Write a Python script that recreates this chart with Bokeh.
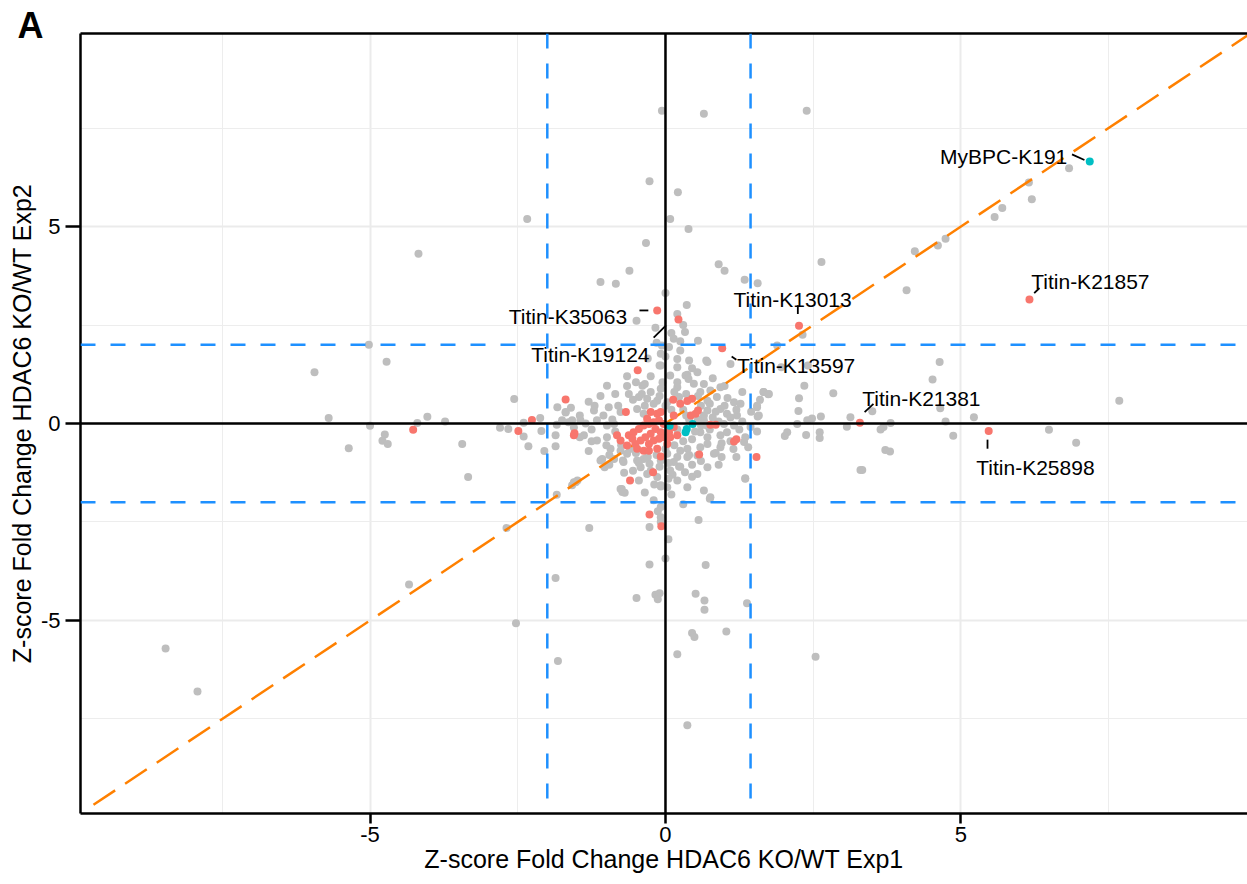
from bokeh.plotting import figure
from bokeh.models import Range1d, LinearAxis, SingleIntervalTicker, FixedTicker, Span
from bokeh.embed import file_html
from bokeh.resources import INLINE
from bokeh.core.properties import value

# ---------------- data ----------------
x_title = "Z-score Fold Change HDAC6 KO/WT Exp1"
y_title = "Z-score Fold Change HDAC6 KO/WT Exp2"
tick_values = [-5, 0, 5]
tick_labels = ["-5", "0", "5"]

x_cut = [-2.0, 1.44]
y_cut = [2.0, -2.0]
diag_ends = [-9.68, 9.9]

gray_pts = [
    (-0.06, 7.94), (0.65, 7.86), (2.39, 7.94), (-0.27, 6.15), (0.21, 5.87), (-2.34, 5.19), (0.08, 5.19),
    (0.39, 4.94), (-0.33, 4.58), (-4.18, 4.31), (0.90, 4.04), (1.00, 3.88), (-0.61, 3.88), (2.64, 4.10),
    (-1.10, 3.59), (-0.84, 3.55), (1.34, 3.65), (1.56, 3.56), (0.00, 3.31), (0.36, 3.01), (4.08, 3.38),
    (4.22, 4.37), (4.61, 4.52), (4.74, 4.69), (5.57, 5.24), (5.70, 5.47), (6.15, 6.12), (6.20, 5.69),
    (6.83, 6.48), (-0.49, 2.61), (2.32, 2.25), (1.89, 1.98), (1.96, 1.43), (2.41, 1.47), (0.20, 2.78),
    (-0.17, 2.43), (0.33, 2.32), (0.14, 2.15), (0.25, 2.09), (-0.06, 1.98), (0.06, 1.94), (-0.08, 1.77),
    (0.20, 1.64), (-0.10, 1.47), (0.37, 1.24), (0.69, 1.60), (1.10, 1.51),
    (4.64, 1.56), (4.52, 1.12), (2.35, 0.96), (2.84, 0.77), (1.66, 0.80), (1.74, 0.74), (2.26, 0.64),
    (1.55, 0.45), (2.25, 0.32), (3.50, 0.31), (4.65, 0.39), (7.68, 0.58), (1.56, 0.18), (2.63, 0.18),
    (2.48, 0.13), (2.40, 0.08), (3.13, 0.16), (5.22, 0.16), (4.74, 0.05), (3.81, 0.01), (3.69, -0.09),
    (3.64, -0.15), (3.07, -0.08), (2.23, -0.01), (2.61, -0.22), (2.61, -0.37), (2.06, -0.22), (2.02, -0.32),
    (2.38, -0.29), (6.49, -0.16), (6.95, -0.49), (4.87, -0.31), (3.72, -0.67), (3.80, -0.71), (3.33, -1.18),
    (1.35, -1.39), (0.75, -1.91), (0.56, -2.45), (-0.27, -2.63), (-0.08, -2.50), (0.05, -2.94), (0.00, -3.43),
    (-0.27, -3.58), (0.68, -3.59), (-1.86, -3.92), (-0.49, -4.43), (-0.17, -4.35), (-0.10, -4.31),
    (-0.13, -4.46), (0.51, -4.32), (0.66, -4.49), (0.66, -4.73), (1.38, -4.56), (-2.53, -5.07), (0.45, -5.32),
    (0.49, -5.42), (1.03, -5.28), (0.20, -5.86), (-1.82, -6.03), (2.54, -5.92), (0.37, -7.66), (-2.69, -2.65),
    (-1.29, -2.65), (-4.34, -4.09), (-8.46, -5.71), (-7.92, -6.80), (-0.08, -2.12), (-0.13, -2.23),
    (-0.08, -2.38), (3.30, -1.18),
    (-5.02, 2.00), (-4.72, 1.57), (-5.94, 1.30), (-5.70, 0.14), (-4.03, 0.17), (-3.73, 0.05), (-4.20, 0.01),
    (-5.00, -0.06), (-4.75, -0.28), (-4.79, -0.44), (-4.70, -0.52), (-5.36, -0.63), (-3.44, -0.52),
    (-3.34, -1.36), (-2.56, 0.62), (-2.12, 0.14), (-2.40, 0.02), (-2.80, -0.11), (-2.66, -0.14),
    (-2.40, -0.33), (-2.10, -0.19), (-2.32, -0.58), (-2.05, -0.70), (-1.86, -0.30), (-1.86, -0.58),
    (-1.84, -0.03), (-1.75, 0.08), (-1.58, 0.08), (-1.83, 0.41), (-1.69, 0.28), (-1.52, -1.49),
    (-1.58, -1.57), (-1.84, -1.81), (-1.08, -0.92), (-1.03, -1.11), (-0.72, -0.94), (-0.74, -1.66),
    (-0.69, -1.76), (0.33, -1.24), (0.12, -1.30), (0.23, -1.09), (-0.19, -1.55), (-0.08, -1.60),
    (0.03, -1.62), (-0.27, -1.02),
    (-0.08, 1.47), (0.20, 1.43), (0.08, 1.22), (0.34, 1.22), (0.39, 1.13), (0.54, 1.30), (0.71, 1.56),
    (-0.99, 0.96), (-0.39, 0.96), (-0.25, 0.80), (-0.08, 0.88), (0.20, 0.92), (0.48, 1.01), (0.59, 0.80),
    (0.76, 0.84), (0.93, 0.92), (-0.62, 0.75), (-0.45, 0.67), (-0.31, 0.63), (-0.14, 0.58), (0.03, 0.54),
    (0.23, 0.67), (0.71, 0.58), (0.87, 0.67), (1.16, 0.54), (1.27, 0.50), (1.66, 0.80), (1.75, 0.75),
    (-1.21, 0.33), (-0.96, 0.41), (-0.76, 0.29), (-0.48, 0.37), (-0.37, 0.25), (0.71, 0.33), (0.93, 0.37),
    (1.04, 0.25), (1.21, 0.20), (1.55, 0.41), (1.58, 0.20), (-1.69, 0.29), (-1.64, 0.03), (-1.44, 0.08),
    (-1.16, 0.08), (-0.99, -0.05), (-0.87, -0.01), (0.65, 0.08), (0.99, -0.01), (1.16, -0.05), (1.44, -0.09),
    (-1.38, -0.30), (-1.16, -0.43), (-0.99, -0.35), (0.59, -0.22), (0.71, -0.35), (0.93, -0.30),
    (1.04, -0.22), (1.35, -0.35), (-0.93, -0.64), (-0.76, -0.69), (-0.65, -0.77), (0.03, -0.77),
    (0.25, -0.69), (0.37, -0.64), (0.59, -0.60), (0.71, -0.52), (0.93, -0.60), (1.33, -0.47),
    (-1.07, -0.90), (-0.87, -0.90), (-0.71, -0.98), (-0.48, -0.94), (-0.37, -0.90), (-0.08, -0.94),
    (0.14, -0.98), (0.37, -0.85), (0.54, -0.81), (0.82, -0.77), (-1.55, -1.49), (-1.49, -1.45),
    (-1.10, -0.94), (-0.76, -1.66), (-0.73, -1.74), (-0.42, -1.11), (-0.31, -1.28), (-0.14, -1.36),
    (-0.08, -1.57), (0.08, -1.19), (0.20, -1.45), (0.37, -1.62), (0.54, -1.28), (0.71, -1.11),
    (0.76, -1.87), (1.35, -1.40), (0.65, -1.70),
    (-0.35, 0.45), (-0.20, 0.50), (0.00, 0.45), (0.10, 0.35), (0.30, 0.35), (0.60, 0.45), (0.65, 0.20),
    (0.80, 0.15), (0.90, 0.05), (0.75, -0.15), (0.60, -0.05), (0.30, -0.45), (0.45, -0.40), (0.15, -0.55),
    (0.00, -0.65), (-0.15, -0.80), (-0.30, -0.85), (-0.50, -0.75), (-0.60, -0.65), (-0.75, -0.55),
    (-0.85, -0.20), (-0.90, 0.10), (-1.05, 0.20), (-1.25, -0.15), (-1.35, 0.00), (-1.00, -0.55),
    (-0.80, 0.45), (-0.55, 0.60), (-0.40, 0.75), (-0.10, 0.70), (0.15, 0.80), (0.35, 0.75), (0.55, 0.70),
    (0.75, 0.50), (1.00, 0.45), (1.10, 0.15), (1.25, -0.15), (1.10, -0.45), (0.95, -0.50), (0.85, -0.75),
    (0.60, -0.95), (0.45, -1.05), (0.25, -1.10), (0.05, -1.00), (-0.10, -1.10), (-0.45, -1.00),
    (-0.70, -1.25), (-0.95, -1.05), (-1.30, -0.70), (-1.45, -0.35), (-1.60, 0.40), (-1.30, 0.55),
    (-1.10, 0.70), (0.20, 1.05), (0.45, 1.40), (-0.25, 1.20), (-0.50, 1.05), (0.80, 1.15), (1.00, 0.95),
    (1.30, 0.80), (1.45, 0.30), (1.40, -0.60), (1.20, -0.85), (0.90, -1.05), (-0.20, -1.95), (0.10, -1.80),
    (0.30, -2.05), (-0.35, -1.75), (0.00, 1.70), (0.25, 1.85), (-0.15, 2.05), (0.55, 2.10), (0.40, 1.60),
    (-0.30, 1.65), (0.10, 2.30), (0.30, 2.50),
    (0.40, 0.10), (0.50, -0.20), (0.20, -0.15), (0.35, 0.20), (0.55, 0.10), (0.70, -0.05), (0.85, 0.30),
    (1.05, 0.65), (1.20, 0.35), (1.30, 0.05), (0.40, -0.80), (0.20, -0.85), (-0.05, 1.05), (-0.35, 1.00),
    (-0.65, 0.95), (-0.85, 0.75), (-1.20, 0.45), (-1.45, 0.20), (-1.55, -0.10), (-1.25, -0.45),
    (-0.95, -0.80), (-0.55, -1.20), (-0.25, -1.20), (0.45, -1.35), (0.95, -0.85), (1.15, -0.65),
    (1.55, -0.20), (1.60, 0.60), (-0.65, 1.20), (0.65, 1.00), (-0.45, -1.45), (0.05, -1.40),
]

red_pts = [
    (6.16, 3.15), (2.26, 2.48), (3.29, 0.02), (5.47, -0.19), (-0.14, 2.87), (0.22, 2.64), (0.96, 1.91),
    (-4.27, -0.16), (-2.26, 0.09), (-2.49, -0.19), (-1.69, 0.61), (-1.55, -0.30), (-1.54, -0.25),
    (-0.47, 1.35), (-0.67, 0.29), (-0.60, -1.45), (-0.21, -1.24), (-0.08, -0.84), (0.57, -0.79),
    (1.54, -0.85), (1.16, -0.46), (1.20, -0.40), (0.76, -0.03), (0.85, -0.03), (-0.27, -2.31),
    (-0.07, -2.61), (0.13, 0.60), (0.25, 0.50), (0.37, 0.57), (0.45, 0.63), (0.55, 0.33), (0.43, 0.20),
    (0.51, 0.25), (0.14, 0.20), (-0.25, 0.29), (-0.14, 0.25), (-0.08, 0.29),
    (-0.62, -0.30), (-0.54, -0.22), (-0.45, -0.14), (-0.37, -0.05), (-0.28, -0.01), (-0.20, 0.03),
    (-0.11, 0.08), (-0.03, -0.01), (0.06, -0.22), (-0.08, -0.22), (-0.17, -0.14), (-0.25, -0.26),
    (-0.34, -0.35), (-0.42, -0.43), (-0.51, -0.52), (-0.56, -0.39), (-0.28, -0.52), (-0.20, -0.43),
    (-0.11, -0.39), (-0.03, -0.35), (0.08, -0.35), (0.20, -0.30), (0.14, -0.09), (-0.48, -0.64),
    (-0.37, -0.69), (-0.28, -0.69), (-0.14, -0.64), (-0.82, -0.30), (-0.76, -0.43), (-0.65, -0.56),
    (0.03, -0.52), (-0.31, 0.12),
]

cyan_pts = [(7.18, 6.65), (0.07, -0.06), (0.34, -0.22), (0.36, -0.14), (0.46, -0.01)]

label_text = ["MyBPC-K191", "Titin-K21857", "Titin-K13013", "Titin-K21381",
              "Titin-K25898", "Titin-K35063", "Titin-K19124", "Titin-K13597"]
label_x = [6.80, 6.19, 1.15, 3.33, 5.26, -0.65, -0.27, 1.21]
label_y = [6.78, 3.61, 3.16, 0.63, -1.12, 2.72, 1.75, 1.47]
label_align = ["right", "left", "left", "left", "left", "right", "right", "left"]
leader_x0 = [6.88, 6.24, 2.24, 3.37, 5.45, -0.44, -0.20, 1.12]
leader_y0 = [6.83, 3.31, 3.00, 0.29, -0.41, 2.87, 2.18, 1.70]
leader_x1 = [7.09, 6.33, 2.24, 3.52, 5.45, -0.29, 0.01, 1.20]
leader_y1 = [6.69, 3.44, 2.78, 0.50, -0.64, 2.87, 2.49, 1.62]

panel_tag = "A"

# ---------------- figure ----------------
FONT = "Liberation Sans"
GRAY, RED, CYAN = "#BEBEBE", "#F8766D", "#00BFC4"
BLUE, ORANGE = "#1E90FF", "#FF8000"

p = figure(width=1247, height=882, output_backend="svg", toolbar_location=None,
           x_range=Range1d(-9.9, 9.85), y_range=Range1d(-9.9, 9.9),
           min_border_left=80, min_border_right=0, min_border_top=33, min_border_bottom=69)
p.outline_line_color = None
p.background_fill_color = "white"
p.border_fill_color = "white"

# panel tag "A" as the plot title, pulled to the top-left corner
p.title.text = panel_tag
p.title.text_font = FONT
p.title.text_font_size = "36px"
p.title.text_font_style = "bold"
p.title.text_color = "black"
p.title.align = "left"
p.title.offset = -63
p.title.standoff = -25

tick_over = {v: s for v, s in zip(tick_values, tick_labels)}
for ax, tick_out in [(p.xaxis[0], 10), (p.yaxis[0], 15)]:
    ax.ticker = SingleIntervalTicker(interval=5, num_minor_ticks=2)
    ax.major_label_overrides = tick_over
    ax.axis_line_color = "black"
    ax.axis_line_width = 2.5
    ax.major_tick_line_color = "black"
    ax.major_tick_line_width = 2.5
    ax.major_tick_out = tick_out
    ax.major_tick_in = 0
    ax.minor_tick_line_color = None
    ax.major_label_text_font = FONT
    ax.major_label_text_font_size = "22px"
    ax.major_label_text_color = "black"
    ax.axis_label_text_font = FONT
    ax.axis_label_text_font_size = "25px"
    ax.axis_label_text_font_style = "normal"
    ax.axis_label_text_color = "black"

p.xaxis[0].axis_label = x_title
p.xaxis[0].major_label_standoff = 3
p.xaxis[0].axis_label_standoff = 0
p.yaxis[0].axis_label = y_title
p.yaxis[0].major_label_standoff = 5
p.yaxis[0].axis_label_standoff = 2

top_axis = LinearAxis(ticker=FixedTicker(ticks=[]), axis_line_color="black", axis_line_width=2.5,
                      major_tick_line_color=None, minor_tick_line_color=None)
p.add_layout(top_axis, "above")

for g in (p.xgrid[0], p.ygrid[0]):
    g.grid_line_color = "#EBEBEB"
    g.grid_line_width = 2
    g.minor_grid_line_color = "#EDEDED"
    g.minor_grid_line_width = 1

# blue threshold lines
for xv in x_cut:
    p.add_layout(Span(location=xv, dimension="height", line_color=BLUE, line_width=2.5, line_dash="15 15"))
for yv in y_cut:
    p.add_layout(Span(location=yv, dimension="width", line_color=BLUE, line_width=2.5, line_dash="15 15"))

# gray points
p.scatter([a for a, b in gray_pts], [b for a, b in gray_pts], size=8, fill_color=GRAY, line_color=None)

# zero lines
p.add_layout(Span(location=0, dimension="height", line_color="black", line_width=2.5))
p.add_layout(Span(location=0, dimension="width", line_color="black", line_width=2.5))

# diagonal
p.line(diag_ends, diag_ends, line_color=ORANGE, line_width=2.5, line_dash="26 12")

p.scatter([a for a, b in red_pts], [b for a, b in red_pts], size=8, fill_color=RED, line_color=None)
p.scatter([a for a, b in cyan_pts], [b for a, b in cyan_pts], size=8, fill_color=CYAN, line_color=None)

# leader segments
p.segment(leader_x0, leader_y0, leader_x1, leader_y1, line_color="black", line_width=1.8)

for align in ("left", "right"):
    idx = [i for i, a in enumerate(label_align) if a == align]
    p.text([label_x[i] for i in idx], [label_y[i] for i in idx], text=[label_text[i] for i in idx],
           text_align=align, text_baseline="alphabetic", text_font=value(FONT),
           text_font_size="21px", text_color="black")

open("out.html", "w").write(file_html(p, INLINE))
